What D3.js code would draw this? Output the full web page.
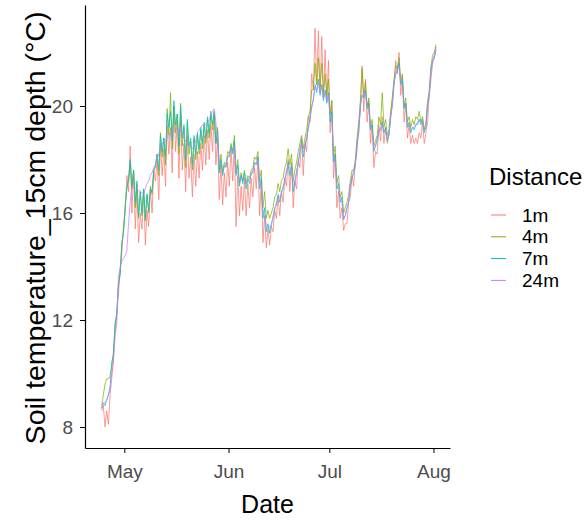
<!DOCTYPE html>
<html>
<head>
<meta charset="utf-8">
<script src="https://cdnjs.cloudflare.com/ajax/libs/d3/7.8.5/d3.min.js"></script>
<style>
    body { margin:0; padding:0; background:#fff; }
    svg { display:block; font-family:"Liberation Sans", Arial, sans-serif; }
    .axis path, .axis line { stroke:#000; }
    .axis text { fill:#4d4d4d; font-size:19px; }
</style>
</head>
<body>
<svg width="586" height="524"></svg>
<script>
// series: lo/hi pairs per day, 12 h apart, from 24 Apr 06:00
var distances = ["1m", "4m", "7m", "24m"];
var colours = ["#F8766D", "#7CAE00", "#00BFC4", "#C77CFF"];
var monthTicks = ["2019-05-01", "2019-06-01", "2019-07-01", "2019-08-01"];
var tempTicks = [8, 12, 16, 20];

var t1m = [
    8.6,8.8, 8.0,8.6, 8.1,9.2, 9.8,10.6, 11.5,12.2, 13.0,13.8, 14.5,15.5,
    16.0,17.4, 16.8,18.5, 16.0,17.6, 15.4,16.9, 14.9,16.0, 15.4,16.8, 14.8,16.1,
    15.5,16.9, 16.0,17.6, 17.2,18.0, 16.5,18.6, 17.4,18.4, 17.0,19.3, 18.2,19.2,
    17.5,20.0, 18.3,19.4, 17.3,19.6, 17.6,18.6, 16.8,18.9, 17.3,18.1, 16.6,18.2,
    17.0,18.3, 17.3,18.6, 17.6,18.9, 17.8,19.1, 18.0,19.3, 18.3,19.7, 17.8,18.8,
    16.5,17.8, 16.3,17.5, 16.6,17.9, 17.0,18.4, 17.2,18.6, 15.5,17.4, 15.9,17.0,
    16.1,17.3, 15.9,17.1, 16.2,17.3, 16.6,17.7, 16.9,18.1, 15.9,17.2, 14.9,15.9,
    14.7,15.4, 14.8,15.5, 15.3,16.1, 15.8,16.6, 15.9,16.8, 16.4,17.3, 17.0,18.0,
    16.8,17.9, 16.2,17.2, 16.9,18.0, 17.7,18.8, 17.4,18.6, 18.3,19.6, 19.4,21.2,
    20.6,22.9, 20.8,22.8, 20.5,22.6, 20.3,22.1, 20.2,21.7, 19.0,20.2, 17.3,18.2,
    16.2,16.8, 15.8,16.2, 15.35,15.6, 15.6,16.4, 16.6,17.4, 17.0,17.9, 18.3,19.3,
    19.8,21.5, 19.8,21.0, 19.4,20.2, 18.6,19.3, 17.7,18.3, 18.2,19.3, 18.7,19.6,
    18.6,19.2, 18.6,19.0, 19.5,20.3, 20.8,21.7, 21.2,22.0, 20.4,21.1, 19.4,20.1,
    18.8,19.3, 18.6,18.9, 18.6,18.8, 18.6,19.0, 18.8,19.4, 18.6,19.0, 19.4,20.4,
    21.0,21.6, 21.8,22.2
];
var t4m = [
    8.8,9.2, 9.6,9.8, 9.8,9.9, 10.3,10.8, 11.8,12.3, 13.3,13.8, 14.8,15.4,
    16.2,17.0, 17.2,17.9, 16.9,17.6, 16.2,17.1, 15.8,16.8, 15.9,16.9, 15.7,16.7,
    16.0,17.0, 16.7,17.6, 17.7,18.2, 17.4,19.0, 18.1,18.8, 17.8,19.9, 18.9,20.5,
    18.4,20.0, 19.0,19.7, 18.2,20.1, 18.5,19.2, 17.7,19.4, 18.2,18.7, 17.6,18.8,
    18.0,18.9, 18.2,19.1, 18.4,19.3, 18.6,19.5, 18.8,19.7, 19.1,19.8, 18.6,19.2,
    17.6,18.2, 17.5,17.9, 17.8,18.3, 18.2,18.6, 18.3,18.9, 17.5,18.0, 17.1,17.5,
    17.2,17.6, 17.1,17.4, 17.3,17.6, 17.7,18.1, 18.0,18.3, 17.2,17.6, 16.2,16.8,
    15.8,16.1, 15.8,16.0, 16.2,16.6, 16.7,17.1, 16.8,17.2, 17.3,17.7, 17.9,18.4,
    17.8,18.2, 17.2,17.6, 17.9,18.3, 18.6,18.9, 18.4,18.8, 19.1,19.6, 19.8,20.6,
    20.6,21.6, 20.8,21.8, 20.7,21.6, 20.5,21.2, 20.4,21.0, 19.7,20.2, 18.1,18.5,
    17.1,17.4, 16.6,16.8, 16.0,16.2, 16.4,16.7, 17.2,17.6, 17.6,18.0, 18.8,19.4,
    20.2,21.4, 20.4,20.9, 20.0,20.3, 19.2,19.5, 18.5,18.7, 18.9,19.6, 19.3,20.5,
    19.2,19.5, 18.9,19.1, 19.8,20.3, 21.0,21.5, 21.4,21.8, 20.9,21.2, 20.0,20.3,
    19.4,19.6, 19.2,19.5, 19.3,19.6, 19.5,19.8, 19.4,19.6, 19.1,19.4, 20.2,20.6,
    21.5,21.9, 22.0,22.3
];
var t7m = [
    8.7,8.9, 8.8,9.0, 9.2,9.5, 10.4,10.7, 11.9,12.2, 13.4,13.7, 14.9,15.2,
    16.3,16.9, 17.3,18.0, 17.0,17.6, 16.4,17.2, 15.9,16.8, 16.0,16.9, 15.8,16.7,
    16.1,16.9, 16.8,17.6, 17.8,18.2, 17.6,18.9, 18.3,18.8, 18.1,19.7, 19.2,19.8,
    18.7,20.2, 19.3,19.7, 18.5,20.0, 18.8,19.3, 18.0,19.5, 18.5,18.8, 17.8,18.9,
    18.2,19.0, 18.4,19.2, 18.6,19.4, 18.8,19.6, 19.0,19.8, 19.3,19.8, 18.6,19.1,
    17.5,18.0, 17.4,17.8, 17.7,18.1, 18.1,18.5, 18.2,18.7, 17.4,17.8, 17.0,17.4,
    17.1,17.5, 16.9,17.3, 17.1,17.5, 17.5,17.9, 17.8,18.1, 16.9,17.3, 15.8,16.2,
    15.3,15.6, 15.25,15.6, 15.8,16.2, 16.3,16.7, 16.4,16.8, 16.9,17.3, 17.5,17.9,
    17.4,17.8, 16.8,17.2, 17.5,17.9, 18.3,18.7, 18.1,18.5, 18.8,19.2, 19.5,20.0,
    20.2,20.8, 20.5,21.0, 20.4,20.8, 20.2,20.6, 20.1,20.5, 19.4,19.8, 17.9,18.2,
    16.9,17.1, 16.4,16.6, 15.75,15.9, 16.2,16.4, 17.0,17.3, 17.5,17.8, 18.6,19.0,
    20.0,20.4, 20.3,20.6, 19.9,20.1, 19.1,19.3, 18.3,18.5, 18.7,19.1, 19.1,19.4,
    19.0,19.2, 18.7,18.9, 19.6,20.0, 20.8,21.2, 21.3,21.6, 20.8,21.0, 19.9,20.1,
    19.2,19.4, 19.0,19.2, 19.1,19.3, 19.3,19.5, 19.3,19.5, 19.0,19.2, 20.0,20.4,
    21.3,21.7, 21.8,22.1
];
var t24m = [
    8.7,8.9, 8.9,9.0, 9.2,9.4, 10.0,10.4, 11.4,11.9, 13.6,14.0, 14.2,14.3,
    14.4,14.6, 15.6,16.4, 17.0,17.0, 16.95,16.9, 16.85,16.8, 16.75,16.7, 16.9,17.1,
    17.2,17.4, 17.5,17.7, 17.8,18.0, 18.2,18.5, 18.6,18.7, 18.7,18.8, 18.8,19.0,
    19.0,19.1, 19.1,19.2, 19.0,19.1, 18.9,18.8, 18.7,18.6, 18.5,18.5, 18.4,18.5,
    18.7,19.0, 19.1,19.2, 19.3,19.3, 19.3,19.4, 19.5,19.7, 19.8,19.9, 19.4,18.6,
    17.9,17.7, 17.6,17.7, 17.8,18.1, 18.2,18.4, 18.4,18.5, 17.6,17.5, 17.2,17.3,
    17.3,17.3, 17.1,17.2, 17.3,17.4, 17.6,17.8, 17.9,18.0, 17.2,17.0, 16.1,15.9,
    15.5,15.4, 15.5,15.5, 15.9,16.1, 16.4,16.6, 16.6,16.7, 17.0,17.2, 17.6,17.8,
    17.7,17.6, 17.1,17.0, 17.6,17.8, 18.4,18.6, 18.3,18.4, 18.9,19.1, 19.6,19.9,
    20.3,20.7, 20.6,20.9, 20.5,20.7, 20.3,20.5, 20.2,20.4, 19.6,19.5, 18.1,17.9,
    17.0,16.9, 16.5,16.4, 15.8,15.9, 16.2,16.4, 17.1,17.3, 17.6,17.8, 18.7,19.0,
    20.1,20.4, 20.4,20.5, 20.0,19.9, 19.2,19.1, 18.4,18.5, 18.8,19.0, 19.2,19.3,
    19.1,19.0, 18.8,18.9, 19.7,20.0, 20.9,21.2, 21.4,21.5, 20.9,20.8, 20.0,19.9,
    19.3,19.3, 19.1,19.2, 19.2,19.3, 19.4,19.5, 19.4,19.4, 19.1,19.2, 20.1,20.4,
    21.4,21.7, 21.9,22.2
];

var seriesValues = [t1m, t4m, t7m, t24m];
var start = Date.UTC(2019, 3, 24, 6);

var svg = d3.select("svg");

var x = d3.scaleUtc()
    .domain([new Date(Date.UTC(2019, 3, 19, 7)), new Date(Date.UTC(2019, 7, 5, 22))])
    .range([85, 450]);
var y = d3.scaleLinear()
    .domain([7.215, 23.776])
    .range([448, 5]);

var line = d3.line()
    .x(function(d, i) { return x(d3.utcHour.offset(new Date(start), 12 * i)); })
    .y(function(d) { return y(d); });

svg.append("g").selectAll("path")
    .data(seriesValues)
    .enter().append("path")
    .attr("d", line)
    .attr("fill", "none")
    .attr("stroke", function(d, i) { return colours[i]; })
    .attr("stroke-width", 0.8)
    .attr("stroke-opacity", 0.9);

// axes
var xAxis = svg.append("g")
    .attr("class", "axis")
    .attr("transform", "translate(0,448)")
    .call(d3.axisBottom(x)
        .tickValues(monthTicks.map(function(s) { return new Date(s + "T00:00:00Z"); }))
        .tickFormat(d3.utcFormat("%b"))
        .tickSizeInner(5).tickSizeOuter(0).tickPadding(12));
xAxis.select(".domain").attr("stroke-width", 1.2);

var yAxis = svg.append("g")
    .attr("class", "axis")
    .attr("transform", "translate(85,0)")
    .call(d3.axisLeft(y).tickValues(tempTicks)
        .tickSizeInner(5).tickSizeOuter(0).tickPadding(7));
yAxis.select(".domain").attr("stroke-width", 1.2);

svg.append("text")
    .attr("x", 267.5).attr("y", 513)
    .attr("text-anchor", "middle")
    .attr("font-size", 25)
    .text("Date");

svg.append("text")
    .attr("transform", "translate(45,228) rotate(-90)")
    .attr("text-anchor", "middle")
    .attr("font-size", 28.5)
    .text("Soil temperature_15cm depth (°C)");

// legend
var legend = svg.append("g").attr("transform", "translate(489,0)");
legend.append("text")
    .attr("x", 0).attr("y", 185)
    .attr("font-size", 24)
    .text("Distance");

var item = legend.selectAll(".item")
    .data(distances)
    .enter().append("g")
    .attr("class", "item")
    .attr("transform", function(d, i) { return "translate(0," + (215 + i * 21.8) + ")"; });
item.append("line")
    .attr("x1", 2).attr("x2", 17)
    .attr("stroke", function(d, i) { return colours[i]; })
    .attr("stroke-width", 1);
item.append("text")
    .attr("x", 33).attr("dy", "0.35em")
    .attr("font-size", 19)
    .text(function(d) { return d; });
</script>
</body>
</html>
